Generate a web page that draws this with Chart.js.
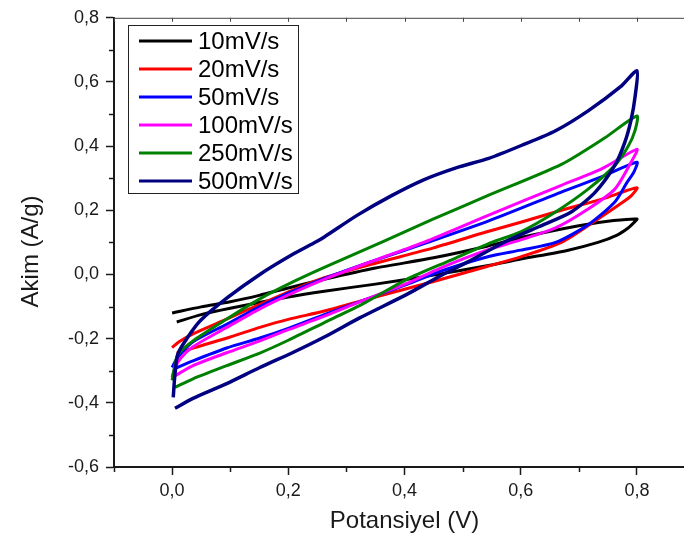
<!DOCTYPE html>
<html><head><meta charset="utf-8">
<script src="https://cdn.jsdelivr.net/npm/chart.js@4.4.1/dist/chart.umd.min.js"></script>
<style>html,body{margin:0;padding:0;background:#fff;overflow:hidden}#wrap{position:relative;width:684px;height:545px;overflow:hidden}</style>
</head><body><div id="wrap"><canvas id="c" width="700" height="545"></canvas></div>
<script>
const seriesLabels = ['10mV/s','20mV/s','50mV/s','100mV/s','250mV/s','500mV/s'];
const seriesColors = ['#000000','#ff0000','#0000ff','#ff00ff','#008000','#000080'];

// [potential V, current A/g] going round each loop
const cv10 = [[0,-0.12],[0.05,-0.101],[0.1,-0.085],[0.15,-0.065],[0.2,-0.042],[0.262,-0.015],[0.35,0.02],[0.45,0.052],[0.542,0.088],[0.6,0.115],[0.7,0.152],[0.76,0.168],[0.8,0.173],
  [0.795,0.162],[0.785,0.145],[0.765,0.122],[0.733,0.10],[0.68,0.075],[0.6,0.048],[0.542,0.027],[0.45,-0.002],[0.35,-0.03],[0.262,-0.052],[0.2,-0.07],[0.1,-0.105],[0.05,-0.125],[0.008,-0.148]];
const cv20 = [[0,-0.228],[0.012,-0.21],[0.036,-0.185],[0.094,-0.139],[0.151,-0.093],[0.219,-0.04],[0.262,-0.01],[0.35,0.035],[0.45,0.083],[0.542,0.133],[0.6,0.163],[0.67,0.20],[0.74,0.235],[0.8,0.27],
  [0.79,0.245],[0.773,0.222],[0.733,0.173],[0.67,0.10],[0.6,0.055],[0.542,0.025],[0.45,-0.022],[0.35,-0.07],[0.262,-0.114],[0.2,-0.14],[0.151,-0.165],[0.1,-0.195],[0.05,-0.222],[0.008,-0.245]];
const cv50 = [[0,-0.29],[0.009,-0.26],[0.036,-0.21],[0.094,-0.155],[0.151,-0.10],[0.207,-0.053],[0.262,-0.012],[0.35,0.045],[0.44,0.10],[0.545,0.167],[0.67,0.257],[0.74,0.305],[0.8,0.35],
  [0.795,0.32],[0.783,0.287],[0.762,0.226],[0.716,0.155],[0.66,0.10],[0.6,0.076],[0.545,0.056],[0.462,0.01],[0.404,-0.031],[0.33,-0.08],[0.262,-0.125],[0.2,-0.168],[0.151,-0.198],[0.094,-0.229],[0.036,-0.269],[0.003,-0.294]];
const cv100 = [[0,-0.32],[0.005,-0.29],[0.015,-0.26],[0.036,-0.225],[0.094,-0.165],[0.151,-0.107],[0.207,-0.058],[0.262,-0.015],[0.35,0.045],[0.433,0.10],[0.545,0.185],[0.67,0.278],[0.74,0.33],[0.8,0.39],
  [0.79,0.35],[0.762,0.266],[0.716,0.204],[0.66,0.145],[0.6,0.108],[0.545,0.078],[0.462,0.02],[0.404,-0.028],[0.33,-0.08],[0.262,-0.13],[0.2,-0.172],[0.151,-0.207],[0.094,-0.244],[0.036,-0.284],[0.005,-0.316]];
const cv250 = [[0,-0.33],[0.004,-0.29],[0.01,-0.25],[0.036,-0.207],[0.094,-0.139],[0.151,-0.076],[0.207,-0.024],[0.262,0.022],[0.362,0.102],[0.45,0.173],[0.545,0.247],[0.67,0.343],[0.745,0.426],[0.8,0.494],
  [0.797,0.45],[0.785,0.40],[0.762,0.34],[0.716,0.266],[0.66,0.195],[0.6,0.133],[0.55,0.10],[0.48,0.045],[0.404,-0.015],[0.33,-0.09],[0.262,-0.15],[0.2,-0.205],[0.151,-0.245],[0.094,-0.284],[0.036,-0.325],[0.005,-0.352]];
const cv500 = [[0.002,-0.383],[0.005,-0.309],[0.01,-0.247],[0.026,-0.198],[0.048,-0.145],[0.094,-0.074],[0.151,0.0],[0.207,0.062],[0.248,0.102],[0.262,0.117],[0.319,0.185],[0.377,0.245],[0.433,0.295],[0.49,0.333],[0.545,0.362],[0.601,0.402],[0.66,0.448],[0.716,0.51],[0.773,0.587],[0.8,0.635],
  [0.797,0.556],[0.79,0.482],[0.779,0.411],[0.762,0.34],[0.728,0.256],[0.687,0.195],[0.63,0.148],[0.57,0.099],[0.51,0.04],[0.463,-0.003],[0.404,-0.062],[0.322,-0.136],[0.262,-0.195],[0.207,-0.244],[0.151,-0.29],[0.094,-0.34],[0.036,-0.386],[0.005,-0.417]];

const xTickLabels = ['0,0','0,2','0,4','0,6','0,8'];
const yTickLabels = ['-0,6','-0,4','-0,2','0,0','0,2','0,4','0,6','0,8'];
const xTitle = 'Potansiyel (V)';
const yTitle = 'Akim (A/g)';

const allSeries = [cv10, cv20, cv50, cv100, cv250, cv500];
const FONT = '"Liberation Sans", Arial, sans-serif';
const INK = '#1a1a1a';

const datasets = allSeries.map((s, i) => ({
  label: seriesLabels[i],
  data: s.map(p => ({x: p[0], y: p[1]})),
  borderColor: seriesColors[i],
  backgroundColor: seriesColors[i],
  borderWidth: i === 5 ? 3.5 : 3,
  pointRadius: 0,
  showLine: true,
  tension: 0.25,
  fill: false,
  order: 5 - i
}));

function isMajor(v) { return Math.round(v * 10) % 2 === 0; }

const axisDecor = {
  id: 'axisDecor',
  afterDraw(chart) {
    const {ctx, chartArea: a, scales: {x, y}} = chart;
    ctx.save();
    ctx.strokeStyle = INK;
    ctx.lineWidth = 1.5;
    const seg = (x1, y1, x2, y2) => { ctx.beginPath(); ctx.moveTo(x1, y1); ctx.lineTo(x2, y2); ctx.stroke(); };
    x.ticks.forEach(t => { if (!isMajor(t.value)) { const p = Math.round(x.getPixelForValue(t.value)) + 0.5; seg(p, a.bottom, p, a.bottom + 5); } });
    y.ticks.forEach(t => { if (!isMajor(t.value)) { const p = Math.round(y.getPixelForValue(t.value)) + 0.5; seg(a.left - 5, p, a.left, p); } });
    // top frame line with inward ticks
    ctx.strokeStyle = '#444';
    ctx.lineWidth = 1;
    seg(a.left, a.top + 0.5, a.right, a.top + 0.5);
    x.ticks.forEach(t => { const p = Math.round(x.getPixelForValue(t.value)) + 0.5; seg(p, a.top, p, a.top + 4); });
    // y axis title, centred a little below the middle of the axis as in the original
    ctx.save();
    ctx.translate(31, (a.top + a.bottom) / 2 + 9);
    ctx.rotate(-Math.PI / 2);
    ctx.fillStyle = INK;
    ctx.font = '24px ' + FONT;
    ctx.textAlign = 'center';
    ctx.textBaseline = 'middle';
    ctx.fillText(yTitle, 0, 0);
    ctx.restore();
    ctx.restore();
  }
};

const legendBox = {
  id: 'legendBox',
  afterDatasetsDraw(chart) {
    const ctx = chart.ctx;
    ctx.save();
    ctx.fillStyle = '#fff';
    ctx.fillRect(128, 25, 170, 168);
    ctx.strokeStyle = '#222';
    ctx.lineWidth = 1;
    ctx.strokeRect(128.5, 25.5, 170, 168);
    chart.data.datasets.forEach((ds, i) => {
      const yy = 41 + i * 28;
      ctx.strokeStyle = ds.borderColor;
      ctx.lineWidth = 3;
      ctx.beginPath(); ctx.moveTo(139, yy); ctx.lineTo(192, yy); ctx.stroke();
      ctx.fillStyle = '#000';
      ctx.font = '24px ' + FONT;
      ctx.textBaseline = 'middle';
      ctx.fillText(ds.label, 198, yy + 1);
    });
    ctx.restore();
  }
};

new Chart(document.getElementById('c'), {
  type: 'scatter',
  data: { datasets },
  options: {
    responsive: false,
    animation: false,
    devicePixelRatio: 1,
    layout: { padding: { top: 14, right: 0, left: 0, bottom: 0 } },
    plugins: { legend: { display: false }, tooltip: { enabled: false } },
    scales: {
      x: {
        type: 'linear', position: 'bottom', min: -0.1, max: 0.9,
        afterFit: s => { s.height = 78; },
        ticks: {
          stepSize: 0.1, includeBounds: false, autoSkip: false, maxRotation: 0, padding: 5,
          color: INK, font: { family: FONT, size: 18 },
          callback: v => { const k = Math.round(v * 10); return (k >= 0 && k <= 8 && k % 2 === 0) ? xTickLabels[k / 2] : ''; }
        },
        grid: { drawOnChartArea: false, drawTicks: true, tickLength: 8, tickWidth: 1.5,
          tickColor: c => (c.tick && isMajor(c.tick.value)) ? INK : 'rgba(0,0,0,0)' },
        border: { display: true, width: 2, color: INK },
        title: { display: true, text: xTitle, color: INK, font: { family: FONT, size: 24 }, padding: { top: 0, bottom: 9 } }
      },
      y: {
        type: 'linear', position: 'left', min: -0.6, max: 0.8,
        afterFit: s => { s.width = 114; },
        ticks: {
          stepSize: 0.1, includeBounds: false, autoSkip: false, padding: 7,
          color: INK, font: { family: FONT, size: 18 },
          callback: v => { const k = Math.round(v * 10); return (k % 2 === 0) ? yTickLabels[(k + 6) / 2] : ''; }
        },
        grid: { drawOnChartArea: false, drawTicks: true, tickLength: 8, tickWidth: 1.5,
          tickColor: c => (c.tick && isMajor(c.tick.value)) ? INK : 'rgba(0,0,0,0)' },
        border: { display: true, width: 2, color: INK },
        title: { display: false, text: yTitle }
      }
    }
  },
  plugins: [axisDecor, legendBox]
});
</script>
</body></html>
